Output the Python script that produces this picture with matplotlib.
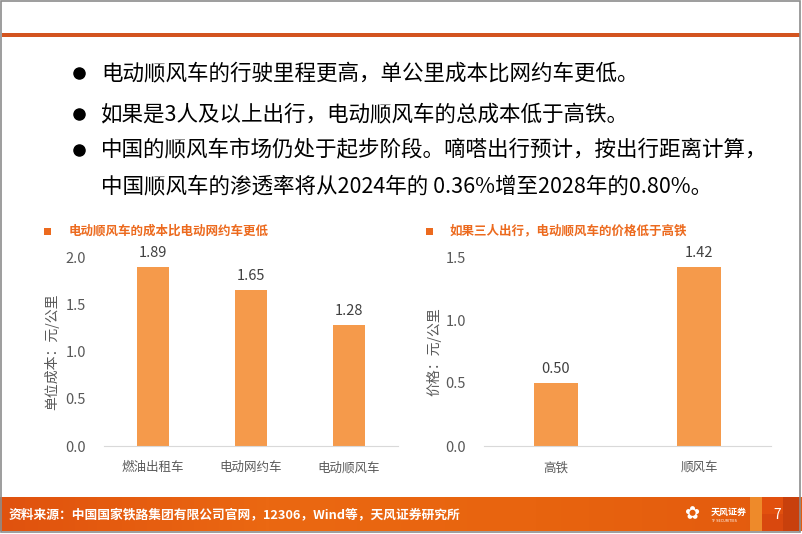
import numpy as np
import matplotlib
matplotlib.use("Agg")
import matplotlib.pyplot as plt
from matplotlib.colors import LinearSegmentedColormap
from matplotlib.patches import Rectangle

plt.rcParams['font.family'] = ['Noto Sans CJK SC', 'DejaVu Sans']

# data
cost_cats = ["燃油出租车", "电动网约车", "电动顺风车"]
cost_vals = [1.89, 1.65, 1.28]
price_cats = ["高铁", "顺风车"]
price_vals = [0.50, 1.42]

bullets = [
    ("电动顺风车的行驶里程更高，单公里成本比网约车更低。", True),
    ("如果是3人及以上出行，电动顺风车的总成本低于高铁。", True),
    ("中国的顺风车市场仍处于起步阶段。嘀嗒出行预计，按出行距离计算，", True),
    ("中国顺风车的渗透率将从2024年的 0.36%增至2028年的0.80%。", False),
]
source = "资料来源：中国国家铁路集团有限公司官网，12306，Wind等，天风证券研究所"

W, H = 802, 534
bar_color = "#F59A4B"
title_color = "#EC6A1E"
grey = "#595959"

fig = plt.figure(figsize=(W / 100, H / 100), dpi=100)

# page decoration layer in pixel coords
bg = fig.add_axes([0, 0, 1, 1])
bg.set_xlim(0, W)
bg.set_ylim(H, 0)
bg.axis('off')

bg.add_patch(Rectangle((2, 33), W - 4, 4, color="#D3541F", lw=0))

# bullets
line_y = [73, 114, 150, 186]
for (txt, dot), y in zip(bullets, line_y):
    if dot:
        bg.plot(79, y, "o", ms=8, color="black")
    bg.text(101, y, txt, fontsize=15.5, color="black", ha="left", va="center")

# chart titles with square markers
bg.add_patch(Rectangle((44, 228), 7, 7, color=title_color, lw=0))
bg.text(69, 231, "电动顺风车的成本比电动网约车更低", fontsize=9, color=title_color,
        weight="bold", ha="left", va="center")
bg.add_patch(Rectangle((426, 228), 7, 7, color=title_color, lw=0))
bg.text(450, 231, "如果三人出行，电动顺风车的价格低于高铁", fontsize=9, color=title_color,
        weight="bold", ha="left", va="center")

# footer band
cmap = LinearSegmentedColormap.from_list("ft", ["#E0520E", "#EB6812", "#E8640F", "#E35A0E"])
grad = np.linspace(0, 1, 256).reshape(1, -1)
bg.imshow(grad, cmap=cmap, aspect="auto", extent=(0, W, 531, 497), zorder=1)
bg.add_patch(Rectangle((750, 497), 12, 34, color="#EE8A2A", lw=0, zorder=2))
bg.add_patch(Rectangle((762, 497), 21, 17, color="#E2500E", lw=0, zorder=2))
bg.add_patch(Rectangle((783, 497), 17, 34, color="#C8400C", lw=0, zorder=2))
bg.add_patch(Rectangle((762, 514), 21, 17, color="#D9480E", lw=0, zorder=2))
bg.text(9, 515, source, fontsize=9.2, color="white", weight="bold", ha="left", va="center", zorder=3)
bg.text(711, 512, "天风证券", fontsize=6.5, color="white", weight="bold", ha="left", va="center", zorder=3)
bg.text(711, 521, "TF SECURITIES", fontsize=2.5, color="white", ha="left", va="center", zorder=3,
        family=['DejaVu Sans'])
bg.text(692, 514, "✿", fontsize=13, color="white", ha="center", va="center", zorder=3,
        family=['DejaVu Sans'])
bg.text(777, 515, "7", fontsize=10, color="white", ha="center", va="center", zorder=3)

# page frame
bg.add_patch(Rectangle((1, 1), W - 3, H - 3, fill=False, ec="#8C8C8C", lw=1.2, zorder=4))


def bar_panel(rect, cats, vals, ymax, ylabel, width):
    ax = fig.add_axes(rect)
    x = np.arange(len(cats))
    ax.bar(x, vals, width=width, color=bar_color, zorder=2)
    ax.set_xlim(-0.5, len(cats) - 0.5)
    ax.set_ylim(0, ymax)
    ticks = np.arange(0, ymax + 0.01, 0.5)
    ax.set_yticks(ticks)
    ax.set_yticklabels([f"{v:.1f}" for v in ticks])
    ax.set_xticks(x)
    ax.set_xticklabels(cats)
    for s in ["top", "right", "left"]:
        ax.spines[s].set_visible(False)
    ax.spines["bottom"].set_color("#D9D9D9")
    ax.tick_params(axis="both", length=0, colors=grey)
    ax.tick_params(axis="y", labelsize=10.5, pad=13)
    ax.tick_params(axis="x", labelsize=9, pad=11)
    ax.set_ylabel(ylabel, fontsize=10, color=grey)
    for xi, v in zip(x, vals):
        ax.text(xi, v + ymax * 0.075, f"{v:.2f}", ha="center", va="center",
                fontsize=10.5, color="#404040", clip_on=False)
    ax.patch.set_alpha(0)
    return ax


ax1 = bar_panel([104 / W, (H - 446) / H, 294 / W, 189 / H], cost_cats, cost_vals,
                2.0, "单位成本：元/公里", 0.32)
ax1.yaxis.set_label_coords(-0.152, 0.5)
ax2 = bar_panel([484 / W, (H - 446) / H, 287 / W, 189 / H], price_cats, price_vals,
                1.5, "价格：元/公里", 0.31)
ax2.yaxis.set_label_coords(-0.148, 0.5)

fig.savefig("out.png", dpi=100)
